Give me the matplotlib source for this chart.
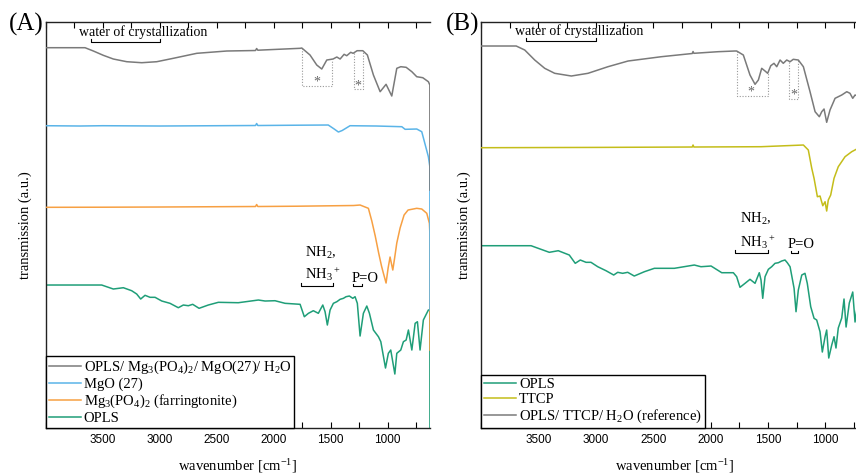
import matplotlib
matplotlib.use("Agg")
import matplotlib.pyplot as plt
from matplotlib.ticker import MultipleLocator, FixedLocator

# ---------------- data (wavenumber, transmission a.u.) ----------------
# panel A
gray_a = [(4000, 380.3), (3655, 380.3), (3582, 377), (3495, 372.7), (3407, 369), (3289, 366.3),
          (3158, 365.3), (3026, 366.3), (2881, 369.7), (2675, 374.7), (2412, 377), (2160, 377.5),
          (2150, 379.5), (2140, 377.8), (1769, 379.7), (1754, 380), (1682, 373), (1623, 363),
          (1579, 359), (1535, 368), (1480, 369), (1447, 371), (1418, 369), (1383, 373.7),
          (1360, 372.3), (1325, 375.7), (1304, 374.7), (1269, 377.3), (1219, 377.3), (1179, 373),
          (1126, 353), (1067, 336.3), (1015, 343.7), (965, 332), (921, 359.7), (886, 361.3),
          (839, 360.7), (789, 356.3), (746, 351.3), (693, 350.3), (644, 346.3), (631, 343), (630, 238)]
blue_a = [(4000, 302.3), (3700, 302), (3500, 302.3), (3000, 302), (2500, 302.3), (2160, 302.5),
          (2150, 304.5), (2140, 302.5), (1800, 302.8), (1522, 303), (1470, 299), (1433, 296),
          (1400, 297.5), (1331, 302.3), (1100, 302), (877, 301.3), (848, 298.7), (746, 299),
          (702, 296.3), (644, 271.3), (631, 261.3), (630, 118)]
orange_a = [(4000, 220.7), (3500, 220.8), (3000, 221), (2500, 221.3), (2160, 221.5), (2150, 223.5),
            (2140, 221.5), (1800, 221.8), (1300, 222.5), (1243, 223), (1170, 219.7), (1140, 207),
            (1110, 192), (1080, 175), (1055, 162), (1039, 155), (1015, 145), (997, 160), (980, 171),
            (956, 158), (940, 170), (921, 185), (892, 200), (857, 213), (822, 218), (746, 219.7),
            (702, 219), (658, 214.7), (635, 204.7), (631, 195), (630, 78)]
green_a = [(4000, 143), (3509, 143), (3407, 139), (3319, 140.3), (3246, 137.3), (3202, 134),
           (3167, 129), (3129, 132.7), (3085, 130.7), (3041, 130.7), (2982, 127), (2910, 124.7),
           (2837, 120.3), (2793, 123), (2749, 122.3), (2711, 123.7), (2655, 119.7), (2574, 123),
           (2486, 125.7), (2311, 125.3), (2135, 128), (2076, 127), (1989, 127.3), (1901, 124.7),
           (1769, 123.7), (1732, 111.3), (1696, 114.7), (1653, 117.3), (1609, 114.7), (1570, 123),
           (1550, 116.3), (1530, 103), (1506, 118), (1477, 124.7), (1447, 126.3), (1418, 128.7),
           (1389, 129.7), (1366, 131.3), (1337, 132), (1307, 129.7), (1287, 131.3), (1267, 124.7),
           (1243, 92), (1214, 114.7), (1184, 122), (1161, 114.7), (1126, 98), (1082, 91.3),
           (1061, 86.3), (1020, 60), (995, 74.7), (974, 78), (938, 54), (921, 74.7), (886, 78),
           (863, 86.3), (839, 88), (819, 98), (789, 78), (760, 104.7), (740, 106.3), (717, 78),
           (688, 108), (644, 118), (631, 118), (630, -20)]

# panel B
gray_b = [(4000, 382), (3693, 382), (3619, 378), (3532, 368), (3445, 359.7), (3358, 354.7),
          (3213, 352), (3068, 354.7), (2894, 361.3), (2719, 367), (2429, 371.3), (2160, 374.5),
          (2153, 376.5), (2146, 374.7), (1936, 376.3), (1791, 377), (1773, 377), (1715, 373),
          (1657, 353), (1613, 343.7), (1584, 348), (1555, 359.7), (1526, 357), (1503, 354.7),
          (1476, 362.3), (1448, 364.7), (1424, 361.3), (1395, 368), (1367, 364.7), (1337, 368),
          (1308, 366.3), (1280, 368.7), (1236, 368), (1192, 361.3), (1134, 336.3), (1090, 316.3),
          (1053, 311.3), (1032, 316.3), (1012, 319), (989, 305.7), (960, 318), (916, 329.7),
          (888, 331.3), (858, 333), (814, 336.3), (786, 334.7), (762, 329.7), (742, 333), (720, 332)]
yellow_b = [(4000, 280.3), (3000, 280.6), (2160, 281), (2153, 283), (2146, 281), (1561, 281.3),
            (1192, 283), (1149, 278), (1119, 259.7), (1099, 249.7), (1070, 231.3), (1047, 232),
            (1023, 222.3), (1003, 226.3), (989, 217), (975, 228), (954, 233), (925, 249.7),
            (888, 261.3), (829, 271.3), (771, 276.3), (727, 279), (700, 280)]
green_b = [(4000, 182.3), (3564, 182.3), (3405, 175.7), (3327, 177.3), (3231, 173), (3179, 164.7),
           (3135, 168), (3085, 165.7), (3042, 165.7), (2983, 161.3), (2911, 157.3), (2844, 153),
           (2809, 155.7), (2766, 154.7), (2722, 155.7), (2665, 152), (2577, 156.3), (2490, 159.7),
           (2316, 159.7), (2142, 163), (2084, 161.3), (1996, 162), (1903, 155.3), (1802, 155.3),
           (1773, 151.3), (1744, 140.7), (1700, 144.7), (1657, 148.7), (1613, 144.7), (1576, 155.3),
           (1561, 148), (1546, 129.7), (1526, 151.3), (1497, 158.7), (1468, 161.3), (1439, 164.7),
           (1410, 165.3), (1381, 167), (1352, 168), (1332, 165.3), (1308, 161.3), (1273, 139.7),
           (1256, 116.3), (1236, 138), (1206, 153), (1178, 154.7), (1158, 144.7), (1128, 121.3),
           (1099, 109.7), (1076, 108), (1047, 96.3), (1027, 76), (1003, 91.3), (989, 98), (971, 70),
           (945, 83), (925, 91.3), (908, 80), (888, 100), (858, 110), (838, 129), (820, 101),
           (792, 125), (762, 136), (742, 106), (725, 120)]

labels_a = [r"OPLS/ Mg$_3$(PO$_4$)$_2$/ MgO(27)/ H$_2$O", "MgO (27)",
            r"Mg$_3$(PO$_4$)$_2$ (farringtonite)", "OPLS"]
labels_b = ["OPLS", "TTCP", r"OPLS/ TTCP/ H$_2$O (reference)"]
tick_vals = [3500, 3000, 2500, 2000, 1500, 1000]

# dotted boxes: (x_left, x_right, top_left, top_right, bottom), asterisk (x, y)
boxes_a = [(1754, 1489, 380, 368, 342), (1296, 1219, 375.5, 377, 339)]
stars_a = [(1623, 345.7), (1260, 342.3)]
boxes_b = [(1773, 1497, 377, 354.7, 332), (1314, 1236, 366, 368, 329)]
stars_b = [(1648, 336.3), (1271, 333)]

c_gray = "#7a7a7a"
c_blue = "#5ab4e8"
c_orange = "#f7a043"
c_green = "#1f9e78"
c_yellow = "#c4bd1a"

plt.rcParams['font.family'] = ['Liberation Serif', 'DejaVu Serif']
plt.rcParams['mathtext.fontset'] = 'custom'
plt.rcParams['mathtext.rm'] = 'Liberation Serif'
plt.rcParams['mathtext.it'] = 'Liberation Serif:italic'
plt.rcParams['mathtext.default'] = 'regular'

fig = plt.figure(figsize=(8.56, 4.74), dpi=100)
ax_a = fig.add_axes([0.0534, 0.097, 0.4489, 0.8572])
ax_b = fig.add_axes([0.5619, 0.097, 0.452, 0.8572])


def xy(pairs):
    return [p[0] for p in pairs], [p[1] for p in pairs]


def setup(ax):
    ax.set_xlim(4000, 630)
    ax.set_ylim(0, 406.3)
    ax.xaxis.set_major_locator(FixedLocator(tick_vals))
    ax.xaxis.set_minor_locator(MultipleLocator(250))
    ax.tick_params(axis='x', which='both', direction='in', top=True, bottom=True,
                   labelsize=8.5, pad=4.5, width=0.8, length=4)
    for lab in ax.get_xticklabels():
        lab.set_fontfamily('Liberation Sans')
    ax.set_yticks([])
    ax.spines['right'].set_visible(False)
    for s in ['left', 'top', 'bottom']:
        ax.spines[s].set_linewidth(1.0)
        ax.spines[s].set_color('#222222')
    ax.set_xlabel(r"wavenumber [cm$^{-1}$]", fontsize=10.5, labelpad=8)
    ax.set_ylabel("transmission (a.u.)", fontsize=10.5)


def bracket(ax, x0, x1, y, hook=3):
    ax.plot([x0, x0, x1, x1], [y + hook, y, y, y + hook], color='black', lw=0.8)


def dotted(ax, boxes, stars):
    for xl, xr, tl, tr, b in boxes:
        ax.plot([xl, xl, xr, xr], [tl, b, b, tr], ls=(0, (1, 1.5)), color='#999999', lw=0.8)
    for sx, sy in stars:
        ax.text(sx, sy, "*", ha='center', va='center', fontsize=10, color='#666666')


# ---------------- panel A ----------------
setup(ax_a)
lw = 1.1
la4, = ax_a.plot(*xy(green_a), color=c_green, lw=lw, zorder=2)
la3, = ax_a.plot(*xy(orange_a), color=c_orange, lw=lw, zorder=3)
la2, = ax_a.plot(*xy(blue_a), color=c_blue, lw=lw, zorder=4)
la1, = ax_a.plot(*xy(gray_a), color=c_gray, lw=lw, zorder=5)
dotted(ax_a, boxes_a, stars_a)
ax_a.text(3146, 392, "water of crystallization", ha='center', va='baseline', fontsize=10)
bracket(ax_a, 3600, 3000, 386.3)
ax_a.text(1725, 171.3, r"NH$_2$,", ha='left', va='baseline', fontsize=10.5)
ax_a.text(1725, 148.7, r"NH$_3$$^+$", ha='left', va='baseline', fontsize=10.5)
bracket(ax_a, 1760, 1480, 142)
ax_a.text(1316, 146.3, "P=O", ha='left', va='baseline', fontsize=10.5)
bracket(ax_a, 1302, 1223, 142, hook=2)
leg_a = ax_a.legend([la1, la2, la3, la4], labels_a, loc='lower left', bbox_to_anchor=(0, 0),
                    borderaxespad=0, fontsize=10.5, frameon=True, fancybox=False,
                    edgecolor='black', framealpha=1, labelspacing=0.12, handlelength=2.2,
                    handletextpad=0.2, borderpad=0.2)
leg_a.get_frame().set_linewidth(1.0)
ax_a.yaxis.set_label_coords(-0.036, 0.5)
fig.text(26 / 856, 1 - 24 / 474, "(A)", ha='center', va='center', fontsize=18)

# ---------------- panel B ----------------
setup(ax_b)
lb1, = ax_b.plot(*xy(green_b), color=c_green, lw=lw, zorder=2)
lb2, = ax_b.plot(*xy(yellow_b), color=c_yellow, lw=lw, zorder=3)
lb3, = ax_b.plot(*xy(gray_b), color=c_gray, lw=lw, zorder=4)
dotted(ax_b, boxes_b, stars_b)
ax_b.text(3142, 393, "water of crystallization", ha='center', va='baseline', fontsize=10)
bracket(ax_b, 3605, 2996, 387.3)
ax_b.text(1746, 205.3, r"NH$_2$,", ha='left', va='baseline', fontsize=10.5)
ax_b.text(1746, 181.3, r"NH$_3$$^+$", ha='left', va='baseline', fontsize=10.5)
bracket(ax_b, 1785, 1500, 175.3)
ax_b.text(1326, 180.3, "P=O", ha='left', va='baseline', fontsize=10.5)
bracket(ax_b, 1302, 1238, 175.3, hook=2)
leg_b = ax_b.legend([lb1, lb2, lb3], labels_b, loc='lower left', bbox_to_anchor=(0, 0),
                    borderaxespad=0, fontsize=10.5, frameon=True, fancybox=False,
                    edgecolor='black', framealpha=1, labelspacing=0.12, handlelength=2.2,
                    handletextpad=0.2, borderpad=0.2)
leg_b.get_frame().set_linewidth(1.0)
ax_b.yaxis.set_label_coords(-0.026, 0.5)
fig.text(463 / 856, 1 - 24 / 474, "(B)", ha='center', va='center', fontsize=18)

fig.savefig("out.png", dpi=100)
